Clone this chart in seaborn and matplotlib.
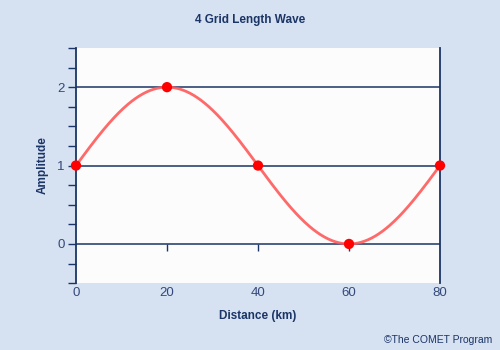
import numpy as np
import pandas as pd
import matplotlib
matplotlib.use("Agg")
import matplotlib.pyplot as plt
import seaborn as sns

# Wave defined on a 20 km grid: one wavelength spans four grid lengths
grid_x = [0, 20, 40, 60, 80]
grid_amp = [1, 2, 1, 0, 1]
wavelength_km = 80
mean_amp = 1
half_range = 1
x_ticks = [0, 20, 40, 60, 80]
y_ticks = [0, 1, 2]

navy = "#1b3566"
label_col = "#34497a"
bg = "#d6e1f2"

sns.set_theme(style="white")
plt.rcParams["font.family"] = ["Liberation Sans", "DejaVu Sans"]

fig = plt.figure(figsize=(5, 3.5), dpi=100, facecolor=bg)
ax = fig.add_axes([0.152, 0.191, 0.728, 0.672])
ax.set_facecolor("#fcfcfc")

xs = np.linspace(0, wavelength_km, 400)
curve = pd.DataFrame({"x": xs,
                      "y": mean_amp + half_range * np.sin(2 * np.pi * xs / wavelength_km)})
pts = pd.DataFrame({"x": grid_x, "y": grid_amp})

for yv in y_ticks:
    ax.axhline(yv, color=navy, lw=1.1, zorder=1)

sns.lineplot(data=curve, x="x", y="y", ax=ax, color="#ff5a5a", lw=2, alpha=0.9, zorder=3)
sns.scatterplot(data=pts, x="x", y="y", ax=ax, color="#ff0000", s=55,
                edgecolor="none", zorder=4, clip_on=False)

ax.set_xlim(0, 80)
ax.set_ylim(-0.5, 2.5)

for s in ["top", "bottom"]:
    ax.spines[s].set_visible(False)
for s in ["left", "right"]:
    ax.spines[s].set_color(navy)
    ax.spines[s].set_linewidth(1.3)

ax.set_yticks(y_ticks)
ax.set_yticks(np.arange(-0.5, 2.51, 0.25), minor=True)
ax.tick_params(axis="y", which="both", direction="out", length=6, width=1,
               color=navy, labelcolor=label_col, labelsize=9.5, left=True, pad=2)
ax.set_xticks(x_ticks)
ax.tick_params(axis="x", length=0, labelcolor=label_col, labelsize=9.5, pad=3)

# tick marks hanging from the zero line
sec = ax.secondary_xaxis(0.5 / 3.0)
sec.set_xticks([20, 40, 60])
sec.tick_params(direction="out", length=5, width=1, color=navy, labelbottom=False)
sec.spines["bottom"].set_visible(False)

ax.set_xlabel("Distance (km)", color=navy, fontsize=8.5, fontweight="bold", labelpad=8)
ax.set_ylabel("Amplitude", color=navy, fontsize=8.5, fontweight="bold", labelpad=6)
fig.text(0.5, 0.942, "4 Grid Length Wave", ha="center", va="center",
         color=navy, fontsize=8.5, fontweight="bold")
fig.text(0.984, 0.028, "\u00a9The COMET Program", ha="right", va="center",
         color=navy, fontsize=7.5)

fig.savefig("out.png", dpi=100, facecolor=bg)
